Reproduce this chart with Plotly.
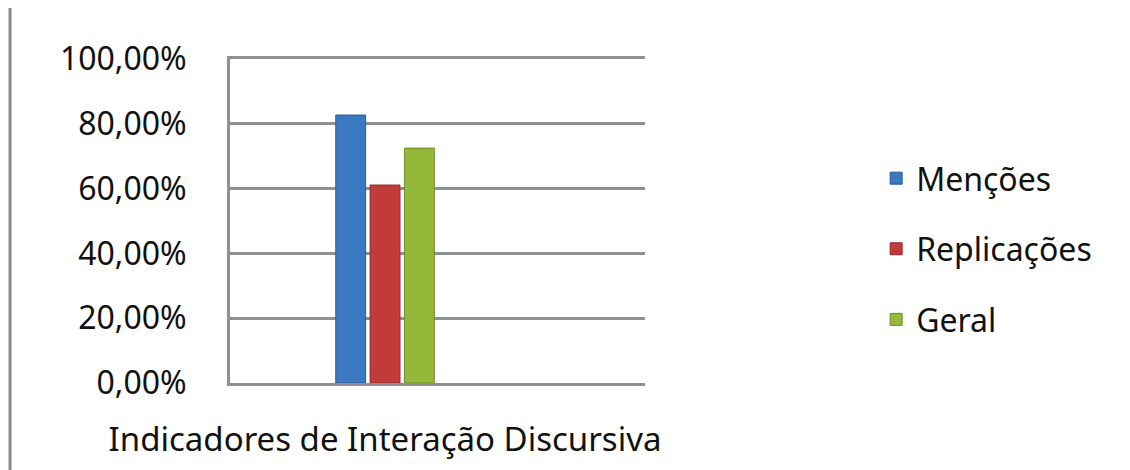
import plotly.graph_objects as go

categories = ["Indicadores de Interação Discursiva"]
series_names = ["Menções", "Replicações", "Geral"]
mencoes = [0.827]
replicacoes = [0.611]
geral = [0.725]
colors = ["#3b78c2", "#c23a3a", "#95b83b"]
line_colors = ["#2a5a95", "#8e2a2a", "#6e8a2a"]
tick_vals = [0, 0.2, 0.4, 0.6, 0.8, 1.0]
tick_text = ["0,00%", "20,00%", "40,00%", "60,00%", "80,00%", "100,00%"]

FONT = "Noto Sans, Open Sans, sans-serif"
GRID = "#909090"

fig = go.Figure()
for name, vals, c, lc in zip(series_names, [mencoes, replicacoes, geral], colors, line_colors):
    fig.add_trace(go.Bar(
        x=categories, y=vals, name=name, legendgroup=name,
        marker=dict(color=c, line=dict(color=lc, width=1)),
    ))

fig.update_layout(
    width=1130, height=470,
    paper_bgcolor="white", plot_bgcolor="white",
    margin=dict(l=222, r=493, t=51, b=95, autoexpand=False),
    barmode="group", bargap=0.2, bargroupgap=0.13,
    font=dict(family=FONT, size=32, color="#111111"),
    showlegend=True,
    legend=dict(
        x=1.557, xanchor="left", xref="paper",
        y=0.414, yanchor="middle",
        font=dict(family=FONT, size=32, color="#111111"),
        tracegroupgap=26,
        bgcolor="rgba(0,0,0,0)",
    ),
    xaxis=dict(
        range=[-1.204, 2.019],
        showgrid=False, zeroline=False,
        showline=True, linecolor=GRID, linewidth=3, mirror=True,
        ticks="", ticklabelstandoff=25,
        tickfont=dict(family=FONT, size=33, color="#111111"),
    ),
    yaxis=dict(
        range=[0, 1.0],
        tickvals=tick_vals, ticktext=tick_text,
        showgrid=True, gridcolor=GRID, gridwidth=3,
        showline=True, linecolor=GRID, linewidth=3,
        zeroline=False,
        ticks="", ticklabelstandoff=34,
        tickfont=dict(family=FONT, size=32, color="#111111"),
    ),
)

fig.add_shape(type="line", xref="paper", yref="paper",
              x0=-0.530, x1=-0.530, y0=-0.30, y1=1.2,
              line=dict(color="#8c8c8c", width=3))

fig.write_html("out.html")
